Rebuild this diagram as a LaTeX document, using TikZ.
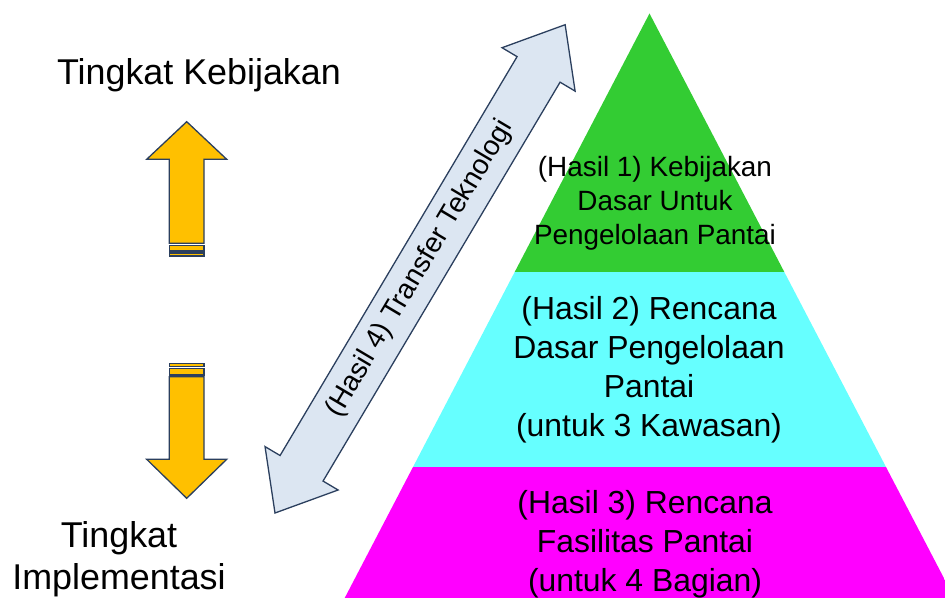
\documentclass[tikz,border=0pt]{standalone}
\usepackage{fontspec}
\setmainfont{Liberation Sans}
\usetikzlibrary{positioning, calc}
\definecolor{hijau}{HTML}{33CC33}
\definecolor{tosca}{HTML}{66FFFF}
\definecolor{ungu}{HTML}{FF00FF}
\definecolor{kuning}{HTML}{FFC000}
\definecolor{garis}{HTML}{2B3F5E}
\definecolor{birumuda}{HTML}{DCE6F2}

\begin{document}
\begin{tikzpicture}[x=1bp, y=1bp,
    teks/.style={align=center, inner sep=0pt, font=\fontsize{32}{39}\selectfont},
    panah/.style={fill=kuning, draw=garis, line width=1.3bp, line join=miter}]
    \useasboundingbox (0,0) rectangle (945,598);

    % piramida
    \begin{scope}
        \clip (0,0) rectangle (945,598);
        \clip (344.7,0) -- (649.5,584.5) -- (954.3,0) -- cycle;
        \fill[hijau] (0,326) rectangle (945,598);
        \fill[tosca] (0,131) rectangle (945,326);
        \fill[ungu] (0,0) rectangle (945,131);
    \end{scope}
    \node[teks, font=\fontsize{28}{34}\selectfont] (hasil1) at (655,395)
        {(Hasil 1) Kebijakan\\Dasar Untuk\\Pengelolaan Pantai};
    \node[teks] (hasil2) at (649,228)
        {(Hasil 2) Rencana\\Dasar Pengelolaan\\Pantai\\(untuk 3 Kawasan)};
    \node[teks] (hasil3) at (645,54)
        {(Hasil 3) Rencana\\Fasilitas Pantai\\(untuk 4 Bagian)};

    % panah dua arah
    \begin{scope}[shift={(275,85)}, rotate=59.28]
        \draw[fill=birumuda, draw=garis, line width=1.3bp, line join=miter]
            (0,0) -- (52,42.5) -- (52,25) -- (516,25) -- (516,42.5) -- (568,0)
            -- (516,-42.5) -- (516,-25) -- (52,-25) -- (52,-42.5) -- cycle;
        \node[teks, transform shape, font=\fontsize{28}{34}\selectfont] (hasil4) at (284,0)
            {(Hasil 4) Transfer Teknologi};
    \end{scope}

    % panah kuning
    \draw[panah] (186.7,476.3) -- (226.7,438.7) -- (204,438.7) -- (204,354.7)
        -- (169.3,354.7) -- (169.3,438.7) -- (146.7,438.7) -- cycle;
    \draw[panah] (169.3,347) rectangle (204,352.5);
    \draw[panah] (169.3,342) rectangle (204,345);
    \draw[panah] (186.7,99.7) -- (226.7,138.7) -- (204,138.7) -- (204,221.3)
        -- (169.3,221.3) -- (169.3,138.7) -- (146.7,138.7) -- cycle;
    \draw[panah] (169.3,223) rectangle (204,229.5);
    \draw[panah] (169.3,231.5) rectangle (204,234.5);

    \node[teks, font=\fontsize{36}{42}\selectfont] (kebijakan) at (199,523) {Tingkat Kebijakan};
    \node[teks, font=\fontsize{36}{42}\selectfont] (implementasi) at (119,39) {Tingkat\\Implementasi};
\end{tikzpicture}
\end{document}
